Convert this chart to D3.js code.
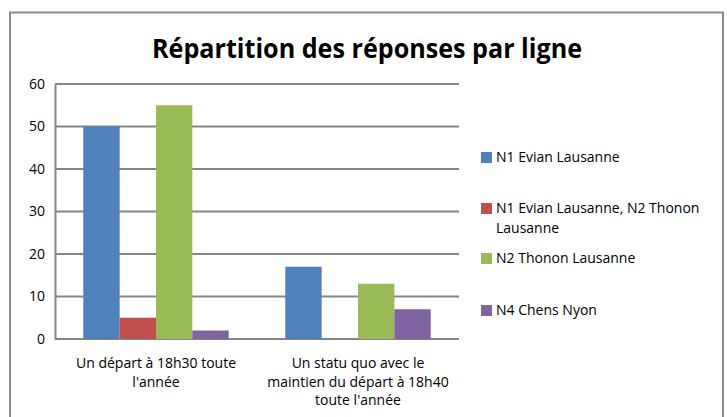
<!DOCTYPE html>
<html>
<head>
<meta charset="utf-8">
<script src="https://cdn.jsdelivr.net/npm/d3@7"></script>
<style>
  body { margin: 0; background: #fff; }
  text { font-family: "Open Sans", sans-serif; fill: #000; }
</style>
</head>
<body>
<div id="chart"></div>
<script>
var categories = [
  ["Un départ à 18h30 toute", "l'année"],
  ["Un statu quo avec le", "maintien du départ à 18h40", "toute l'année"]
];
var seriesNames = ["N1 Evian Lausanne", "N1 Evian Lausanne, N2 Thonon Lausanne", "N2 Thonon Lausanne", "N4 Chens Nyon"];
var seriesColors = ["#4F81BD", "#C0504D", "#9BBB59", "#8064A2"];
var values = [
  [50, 5, 55, 2],
  [17, 0, 13, 7]
];
var yTicks = [0, 10, 20, 30, 40, 50, 60];

var width = 727, height = 417;
var plot = {left: 55, right: 459, top: 84, bottom: 339};

var svg = d3.select("#chart")
  .append("svg")
    .attr("width", width)
    .attr("height", height);

// chart border
svg.append("rect")
  .attr("x", 10)
  .attr("y", 12.5)
  .attr("width", 713)
  .attr("height", 420)
  .attr("fill", "none")
  .attr("stroke", "#8c8c8c")
  .attr("stroke-width", 2);

svg.append("text")
  .text("Répartition des réponses par ligne")
  .attr("x", 367)
  .attr("y", 58)
  .attr("text-anchor", "middle")
  .style("font-weight", "bold")
  .style("font-size", "26px")
  .attr("textLength", 430)
  .attr("lengthAdjust", "spacingAndGlyphs");

var y = d3.scaleLinear().domain([0, 60]).range([plot.bottom, plot.top]);
var x0 = d3.scaleBand().domain(d3.range(categories.length)).range([plot.left, plot.right]).paddingInner(0.28).paddingOuter(0.14);
var x1 = d3.scaleBand().domain(d3.range(seriesNames.length)).range([0, x0.bandwidth()]);

// gridlines
svg.append("g")
  .selectAll("line")
  .data(yTicks)
  .enter().append("line")
    .attr("x1", plot.left)
    .attr("x2", plot.right)
    .attr("y1", function(d) { return y(d); })
    .attr("y2", function(d) { return y(d); })
    .attr("stroke", "#868686")
    .attr("stroke-width", 2);

var yAxis = d3.axisLeft(y).tickValues(yTicks).tickSize(0).tickPadding(10);
var gy = svg.append("g")
  .attr("transform", "translate(" + plot.left + ",0)")
  .call(yAxis);
gy.select(".domain").attr("stroke", "#868686").attr("stroke-width", 2);
gy.selectAll("text").style("font-size", "14px").style("font-family", "'Open Sans', sans-serif");

// bars
var groups = svg.append("g")
  .selectAll("g")
  .data(values)
  .enter().append("g")
    .attr("transform", function(d, i) { return "translate(" + x0(i) + ",0)"; });

groups.selectAll("rect")
  .data(function(d) { return d; })
  .enter().append("rect")
    .attr("x", function(d, i) { return x1(i); })
    .attr("width", x1.bandwidth())
    .attr("y", function(d) { return y(d); })
    .attr("height", function(d) { return y(0) - y(d); })
    .attr("fill", function(d, i) { return seriesColors[i]; });

// category labels
var catLabels = svg.append("g")
  .selectAll("text")
  .data(categories)
  .enter().append("text")
    .attr("text-anchor", "middle")
    .style("font-size", "14px");

catLabels.selectAll("tspan")
  .data(function(d, i) { return d.map(function(l) { return {line: l, cat: i}; }); })
  .enter().append("tspan")
    .attr("x", function(d) { return x0(d.cat) + x0.bandwidth() / 2; })
    .attr("y", function(d, j) { return 368 + j * 18.5; })
    .text(function(d) { return d.line; });

// legend
var legendY = [157, 208, 258, 310];
var legendLines = [["N1 Evian Lausanne"], ["N1 Evian Lausanne, N2 Thonon", "Lausanne"], ["N2 Thonon Lausanne"], ["N4 Chens Nyon"]];
var legend = svg.append("g")
  .selectAll("g")
  .data(seriesNames)
  .enter().append("g")
    .attr("transform", function(d, i) { return "translate(481," + legendY[i] + ")"; });

legend.append("rect")
  .attr("x", 0)
  .attr("y", -5)
  .attr("width", 11)
  .attr("height", 11)
  .attr("fill", function(d, i) { return seriesColors[i]; });

legend.append("text")
  .style("font-size", "14px")
  .selectAll("tspan")
  .data(function(d, i) { return legendLines[i]; })
  .enter().append("tspan")
    .attr("x", 15)
    .attr("y", function(d, j) { return 5 + j * 20; })
    .text(function(d) { return d; });
</script>
</body>
</html>
